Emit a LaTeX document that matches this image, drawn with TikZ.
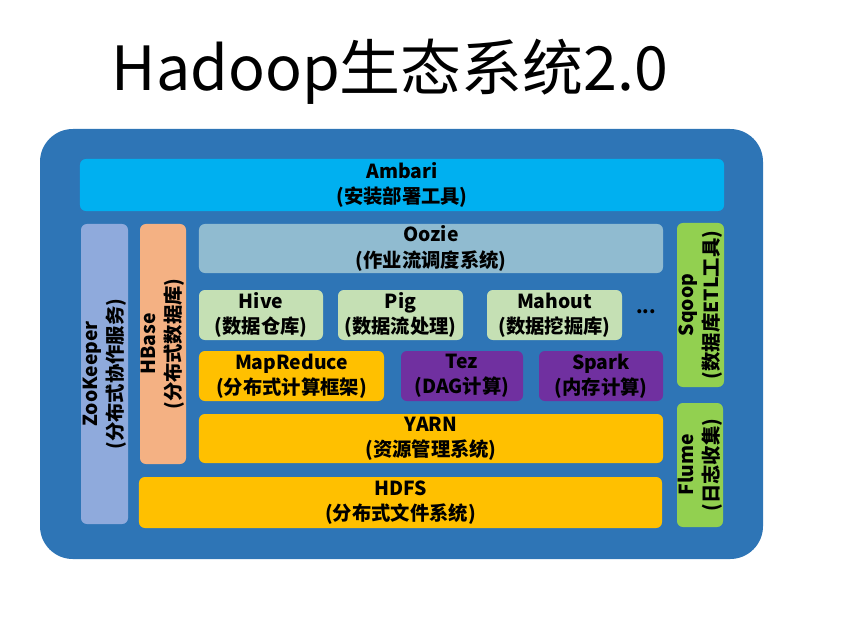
\documentclass[tikz,border=0pt]{standalone}
\usepackage{fontspec}
\setmainfont{Noto Sans CJK SC}
\usepackage{tikz}
\usetikzlibrary{positioning}
\definecolor{hdouter}{RGB}{46,117,182}
\definecolor{hdcyan}{RGB}{0,176,240}
\definecolor{hdlav}{RGB}{143,170,220}
\definecolor{hdsalmon}{RGB}{244,177,131}
\definecolor{hdoozie}{RGB}{144,187,208}
\definecolor{hdlgreen}{RGB}{197,224,180}
\definecolor{hdyellow}{RGB}{255,192,0}
\definecolor{hdpurple}{RGB}{112,48,160}
\definecolor{hdgreen}{RGB}{146,208,80}

\begin{document}
\begin{tikzpicture}[
    x=0.03cm,y=-0.03cm,
    blk/.style={rounded corners=5pt,inner sep=0pt,align=center,
                font=\fontsize{16.5}{21.5}\selectfont\bfseries,text=black},
    vblk/.style={blk,rotate=90}
  ]
    \useasboundingbox (0,0) rectangle (842,621);
    \node[font=\fontsize{52}{60}\selectfont] (title) at (390,72) {Hadoop生态系统2.0};

    % frame
    \fill[hdouter,rounded corners=28pt] (40,129) rectangle (763,559);

    \node[blk,fill=hdcyan,minimum width=19.32cm,minimum height=1.56cm] (ambari) at (402,185) {Ambari\\(安装部署工具)};

    \node[vblk,fill=hdlav,minimum width=9cm,minimum height=1.41cm] (zk) at (104.5,374) {ZooKeeper\\(分布式协作服务)};
    \node[vblk,fill=hdsalmon,minimum width=7.2cm,minimum height=1.38cm] (hbase) at (163,344) {HBase\\(分布式数据库)};

    \node[blk,fill=hdoozie,minimum width=13.92cm,minimum height=1.47cm] (oozie) at (431,248.5) {Oozie\\(作业流调度系统)};

    \node[blk,fill=hdlgreen,minimum width=3.72cm,minimum height=1.5cm] (hive) at (261,315) {Hive\\(数据仓库)};
    \node[blk,fill=hdlgreen,minimum width=3.75cm,minimum height=1.5cm] (pig) at (400.5,315) {Pig\\(数据流处理)};
    \node[blk,fill=hdlgreen,minimum width=4.05cm,minimum height=1.5cm] (mahout) at (554.5,315) {Mahout\\(数据挖掘库)};
    \node[font=\fontsize{16}{21}\selectfont\bfseries] (more) at (646,312) {...};

    \node[blk,fill=hdyellow,minimum width=5.55cm,minimum height=1.5cm] (mr) at (291.5,376) {MapReduce\\(分布式计算框架)};
    \node[blk,fill=hdpurple,minimum width=3.66cm,minimum height=1.5cm] (tez) at (462,376) {Tez\\(DAG计算)};
    \node[blk,fill=hdpurple,minimum width=3.72cm,minimum height=1.5cm] (spark) at (601,376) {Spark\\(内存计算)};

    \node[blk,fill=hdyellow,minimum width=13.92cm,minimum height=1.47cm] (yarn) at (431,438.5) {YARN\\(资源管理系统)};
    \node[blk,fill=hdyellow,minimum width=15.69cm,minimum height=1.53cm] (hdfs) at (400.5,502.5) {HDFS\\(分布式文件系统)};

    \node[vblk,fill=hdgreen,minimum width=4.92cm,minimum height=1.41cm] (sqoop) at (700.5,305) {Sqoop\\(数据库ETL工具)};
    \node[vblk,fill=hdgreen,minimum width=3.72cm,minimum height=1.38cm] (flume) at (700,465) {Flume\\(日志收集)};
\end{tikzpicture}
\end{document}
